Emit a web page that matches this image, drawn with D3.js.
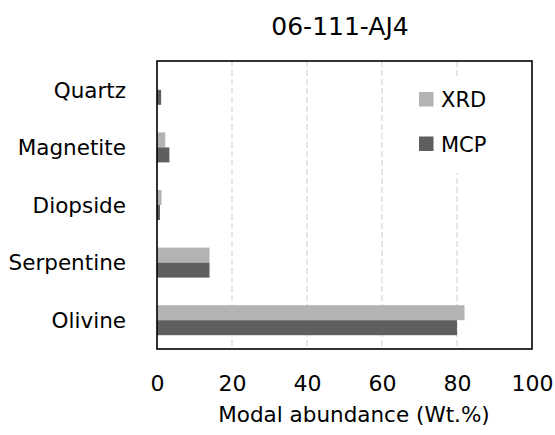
<!DOCTYPE html>
<html>
<head>
<meta charset="utf-8">
<script src="https://cdn.jsdelivr.net/npm/d3@7/dist/d3.min.js"></script>
<style>
  body { margin: 0; background: #fff; }
  svg text { font-family: "DejaVu Sans", sans-serif; fill: #000; }
</style>
</head>
<body>
<div id="chart"></div>
<script>
// Data
const minerals = ['Olivine', 'Serpentine', 'Diopside', 'Magnetite', 'Quartz'];
const seriesNames = ['XRD', 'MCP'];
const xrdValues = [82, 14, 1.2, 2.2, 0];
const mcpValues = [80, 14, 0.8, 3.3, 1.1];
const xTicks = [0, 20, 40, 60, 80, 100];
const seriesColors = ['#b3b3b3', '#5f5f5f'];

const W = 555, H = 435;
const plot = { left: 157, right: 532, top: 61, bottom: 349 };

const svg = d3.select('#chart')
    .append('svg')
    .attr('width', W)
    .attr('height', H);

// Scales
const x = d3.scaleLinear()
    .domain([0, 100])
    .range([plot.left, plot.right]);

// Olivine at the bottom, Quartz at the top
const y = d3.scaleBand()
    .domain(minerals.slice().reverse())
    .range([plot.top, plot.bottom])
    .padding(0);

const ySeries = d3.scaleBand()
    .domain(seriesNames)
    .range([-15, 15]);

// Dashed vertical gridlines
svg.append('g')
    .selectAll('line')
    .data(xTicks.filter(t => t > 0 && t < 100))
    .enter()
    .append('line')
    .attr('x1', d => x(d))
    .attr('x2', d => x(d))
    .attr('y1', plot.top)
    .attr('y2', plot.bottom)
    .attr('stroke', '#d9d9d9')
    .attr('stroke-width', 1.3)
    .attr('stroke-dasharray', '6,3');

// Bars
const rows = minerals.map((m, i) => ({ mineral: m, values: [xrdValues[i], mcpValues[i]] }));

const groups = svg.append('g')
    .selectAll('g')
    .data(rows)
    .enter()
    .append('g')
    .attr('transform', d => `translate(0,${y(d.mineral) + y.bandwidth() / 2})`);

groups.selectAll('rect')
    .data(d => d.values.map((v, j) => ({ series: seriesNames[j], value: v, color: seriesColors[j] })))
    .enter()
    .append('rect')
    .attr('x', x(0))
    .attr('y', d => ySeries(d.series))
    .attr('width', d => x(d.value) - x(0))
    .attr('height', ySeries.bandwidth())
    .attr('fill', d => d.color);

// Plot frame
svg.append('rect')
    .attr('x', plot.left)
    .attr('y', plot.top)
    .attr('width', plot.right - plot.left)
    .attr('height', plot.bottom - plot.top)
    .attr('fill', 'none')
    .attr('stroke', '#000')
    .attr('stroke-width', 1.6);

// X axis labels
const xAxis = svg.append('g')
    .attr('transform', `translate(0,${plot.bottom})`)
    .call(d3.axisBottom(x).tickValues(xTicks).tickSize(0).tickPadding(0));
xAxis.select('.domain').remove();
xAxis.selectAll('text')
    .attr('y', 42)
    .attr('dy', 0)
    .style('font-family', '"DejaVu Sans", sans-serif')
    .style('font-size', '22px')
    .attr('fill', '#000');

// Y axis labels
const yAxis = svg.append('g')
    .attr('transform', `translate(${plot.left},0)`)
    .call(d3.axisLeft(y).tickSize(0).tickPadding(31));
yAxis.select('.domain').remove();
yAxis.selectAll('text')
    .attr('dy', '0.36em')
    .style('font-family', '"DejaVu Sans", sans-serif')
    .style('font-size', '21.5px')
    .attr('fill', '#000');

// Axis title
svg.append('text')
    .attr('x', 354)
    .attr('y', 422)
    .attr('text-anchor', 'middle')
    .style('font-size', '21.5px')
    .text('Modal abundance (Wt.%)');

// Chart title
svg.append('text')
    .attr('x', 340)
    .attr('y', 35)
    .attr('text-anchor', 'middle')
    .style('font-size', '25px')
    .text('06-111-AJ4');

// Legend
const legend = svg.append('g');
legend.append('rect')
    .attr('x', 412)
    .attr('y', 77)
    .attr('width', 100)
    .attr('height', 96)
    .attr('fill', '#fff');

const legendItems = legend.selectAll('g')
    .data(seriesNames)
    .enter()
    .append('g')
    .attr('transform', (d, i) => `translate(419,${92 + i * 44.5})`);

legendItems.append('rect')
    .attr('width', 14.5)
    .attr('height', 14.5)
    .attr('fill', (d, i) => seriesColors[i]);

legendItems.append('text')
    .attr('x', 22)
    .attr('y', 7.5)
    .attr('dy', '0.36em')
    .style('font-size', '21px')
    .text(d => d);
</script>
</body>
</html>
